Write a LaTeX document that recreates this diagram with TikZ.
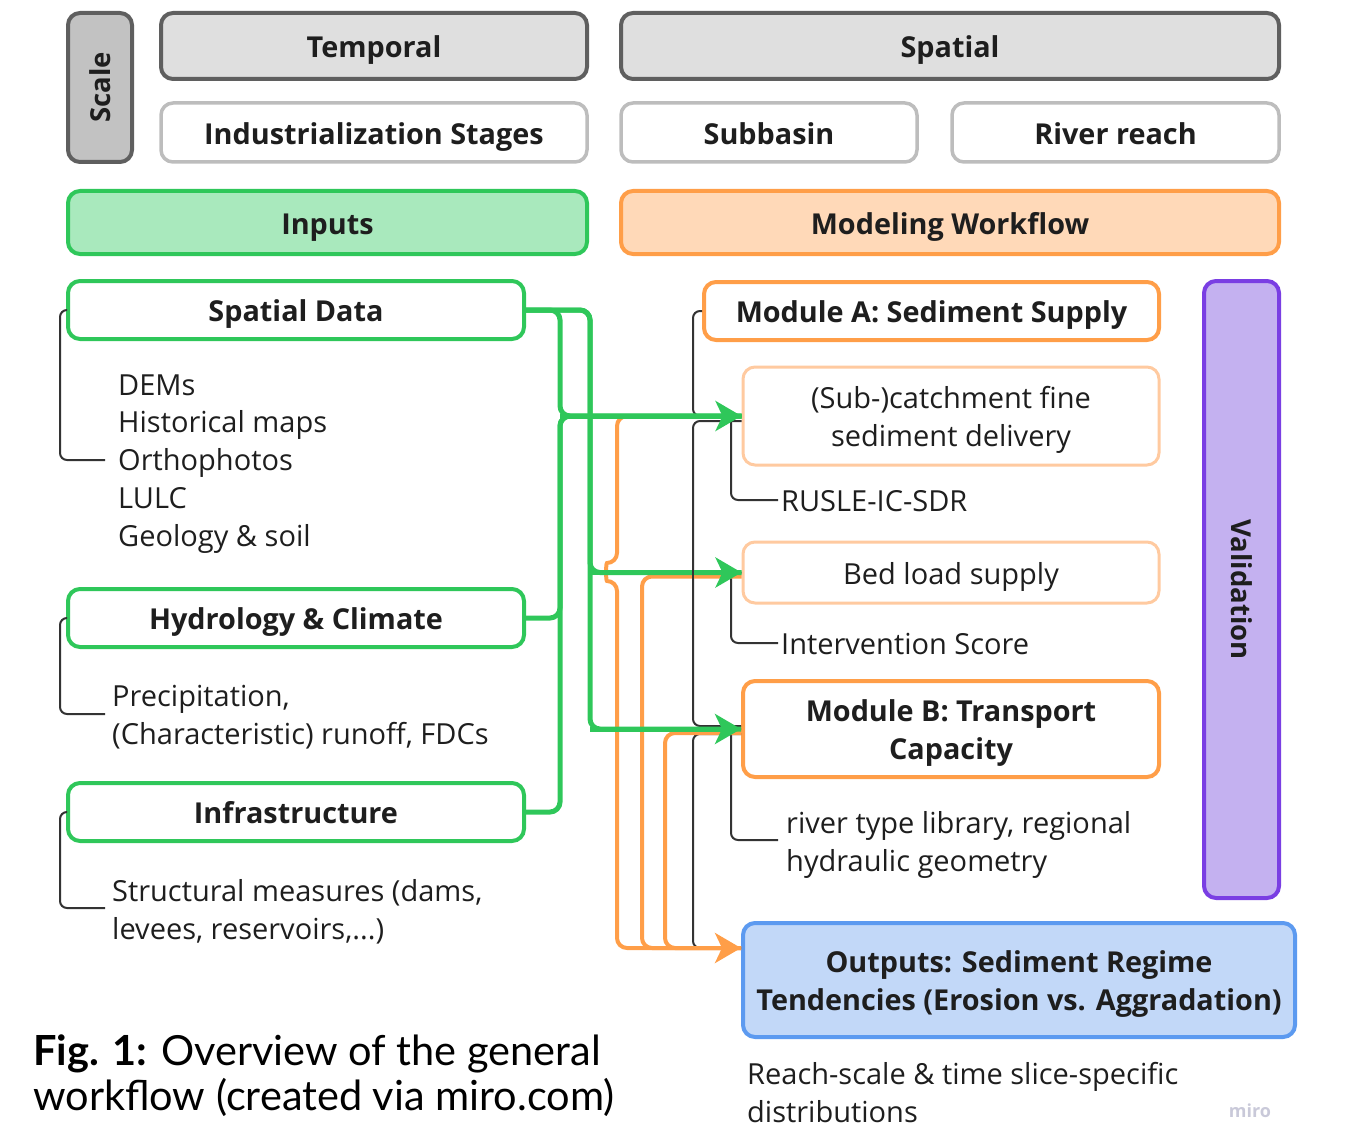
\documentclass[tikz,border=0pt]{standalone}
\usepackage{fontspec}
\setmainfont{Open Sans}
\newfontfamily\capfont{Lato}
\usetikzlibrary{arrows.meta}
\definecolor{txt}{HTML}{1E1E1E}
\definecolor{dgray}{HTML}{5F5F5F}
\definecolor{lgray}{HTML}{BDBDBD}
\definecolor{scalefill}{HTML}{C2C2C2}
\definecolor{topfill}{HTML}{DFDFDF}
\definecolor{gline}{HTML}{2FC75A}
\definecolor{gfill}{HTML}{A9E9BD}
\definecolor{oline}{HTML}{FF9E48}
\definecolor{ofill}{HTML}{FFD9B8}
\definecolor{olight}{HTML}{FFCAA0}
\definecolor{pline}{HTML}{7A3EE3}
\definecolor{pfill}{HTML}{C4B1F0}
\definecolor{bline}{HTML}{5C9AF0}
\definecolor{bfill}{HTML}{C2D8F8}
\definecolor{brk}{HTML}{333333}
\definecolor{miro}{HTML}{C9C9D9}
\newcommand\bxt[1]{\raisebox{-4pt}[\height][\depth]{\begin{tabular}{@{}c@{}}#1\end{tabular}}}
\begin{document}
\begin{tikzpicture}[x=1pt,y=-1pt,
  box/.style={draw, rounded corners=12pt, line width=4pt, text=txt, align=center,
    inner sep=0pt, font=\fontsize{28.8}{38}\selectfont\bfseries},
  rbox/.style={box, font=\fontsize{29}{37.7}\selectfont},
  plain/.style={text=txt, align=left, inner sep=0pt, anchor=base west,
    font=\fontsize{29}{37.7}\selectfont},
  gconn/.style={draw=gline, line width=5pt, rounded corners=10pt},
  oconn/.style={draw=oline, line width=4pt, rounded corners=10pt},
  bconn/.style={draw=brk, line width=2pt, rounded corners=7pt},
  tip/.style={-{Stealth[length=26pt,width=30pt,inset=7pt]}},
]
\useasboundingbox (0,0) rectangle (1349,1134);
% ---- scale rows
\node[box, draw=dgray, fill=scalefill, minimum width=64, minimum height=149] (scale) at (100,87.5) {};
\node[rotate=90, text=txt, font=\fontsize{27.5}{30}\selectfont\bfseries] (scaletxt) at (scale.center) {Scale};
\node[box, draw=dgray, fill=topfill, minimum width=426, minimum height=66] (temporal) at (374,46) {\bxt{Temporal}};
\node[box, draw=dgray, fill=topfill, minimum width=658, minimum height=66] (spatial) at (950,46) {\bxt{Spatial}};
\node[box, draw=lgray, line width=3.5pt, fill=white, minimum width=426, minimum height=59] (indus) at (374,132.5) {\bxt{Industrialization Stages}};
\node[box, draw=lgray, line width=3.5pt, fill=white, minimum width=296, minimum height=59] (subbasin) at (769,132.5) {\bxt{Subbasin}};
\node[box, draw=lgray, line width=3.5pt, fill=white, minimum width=327, minimum height=59] (river) at (1115.5,132.5) {\bxt{River reach}};
% ---- headers
\node[box, draw=gline, fill=gfill, minimum width=519, minimum height=63] (inputs) at (327.5,222.5) {\bxt{Inputs}};
\node[box, draw=oline, fill=ofill, minimum width=658, minimum height=63] (modeling) at (950,222.5) {\bxt{Modeling Workflow}};
% ---- inputs
\node[box, draw=gline, fill=white, minimum width=456, minimum height=58] (spdata) at (296,310) {\bxt{Spatial Data}};
\node[box, draw=gline, fill=white, minimum width=456, minimum height=58] (hydro) at (296,618) {\bxt{Hydrology \& Climate}};
\node[box, draw=gline, fill=white, minimum width=456, minimum height=58] (infra) at (296,812) {\bxt{Infrastructure}};
\node[plain] (sdtxt) at (118,546) {DEMs\\Historical maps\\Orthophotos\\LULC\\Geology \& soil};
\node[plain] (hytxt) at (112,744) {Precipitation,\\(Characteristic) runoff, FDCs};
\node[plain] (inftxt) at (112,939) {Structural measures (dams,\\levees, reservoirs,...)};
% ---- workflow
\node[box, draw=oline, fill=white, minimum width=455, minimum height=58] (modA) at (931.5,311) {\bxt{Module A: Sediment Supply}};
\node[rbox, draw=olight, line width=3pt, fill=white, minimum width=416, minimum height=98] (subc) at (951,416) {\bxt{(Sub-)catchment fine\\sediment delivery}};
\node[rbox, draw=olight, line width=3pt, fill=white, minimum width=416, minimum height=61] (bedload) at (951,572.5) {\bxt{Bed load supply}};
\node[box, draw=oline, fill=white, minimum width=416, minimum height=96] (modB) at (951,729) {\bxt{Module B: Transport\\Capacity}};
\node[box, draw=pline, fill=pfill, minimum width=75, minimum height=617] (valid) at (1241.5,589.5) {};
\node[rotate=-90, text=txt, font=\fontsize{27.5}{30}\selectfont\bfseries] (validtxt) at (valid.center) {Validation};
\node[box, draw=bline, fill=bfill, minimum width=552, minimum height=114] (outputs) at (1019,980) {\bxt{Outputs: Sediment Regime\\Tendencies (Erosion vs. Aggradation)}};
\node[plain] (rusle) at (781,511) {RUSLE-IC-SDR};
\node[plain] (interv) at (781,654) {Intervention Score};
\node[plain] (rtl) at (786,871) {river type library, regional\\hydraulic geometry};
\node[plain] (reach) at (747,1122) {Reach-scale \& time slice-specific\\distributions};
% ---- caption & watermark
\node[anchor=base west, inner sep=0pt, align=left, text=black,
  font=\capfont\fontsize{41.5}{45}\selectfont] (caption) at (33,1110)
  {\textbf{Fig. 1:} Overview of the general\\workflow (created via miro.com)};
\node[text=miro, inner sep=0pt, font=\fontsize{18}{20}\selectfont\bfseries] (wm) at (1250,1111) {miro};
% ---- coordinates for routing
\coordinate (lx) at (60,0);
\coordinate (ax) at (693,0);
\coordinate (cx) at (731,0);
\coordinate (g1) at (560,0);
\coordinate (g2) at (590,0);
\coordinate (o1) at (617,0);
\coordinate (o2) at (642,0);
\coordinate (o3) at (665,0);
\coordinate (outin) at ([yshift=32pt]outputs.west);
% ---- black brackets (left)
\draw[bconn] (spdata.west) -- (lx |- spdata.west) -- (60,460) -- (105,460);
\draw[bconn] (hydro.west) -- (lx |- hydro.west) -- (60,714) -- (105,714);
\draw[bconn] (infra.west) -- (lx |- infra.west) -- (60,908) -- (105,908);
% ---- black brackets (right)
\draw[bconn] (modA.west) -- (ax |- modA.west) -- (ax |- subc.west) -- (subc.west);
\draw[bconn] ([yshift=-5pt]subc.west) -- ([yshift=-5pt]ax |- subc.west) -- ([yshift=3pt]ax |- modB.west) -- ([yshift=3pt]modB.west);
\draw[bconn] ([yshift=-5pt]modB.west) -- ([yshift=-5pt]ax |- modB.west) -- (ax |- outin) -- (outin);
\draw[bconn] (subc.west) -- (cx |- subc.west) -- (731,500) -- (778,500);
\draw[bconn] (bedload.west) -- (cx |- bedload.west) -- (731,643) -- (778,643);
\draw[bconn] (modB.west) -- (cx |- modB.west) -- (731,840) -- (778,840);
% ---- orange connectors
\draw[oconn] (subc.west) -- (o1 |- subc.west) -- (617,563) to[out=180,in=180,looseness=1.6] (617,581) -- (o1 |- outin) -- (outin);
\draw[oconn] ([yshift=-4pt]bedload.west) -- ([yshift=-4pt]o2 |- bedload.west) -- (o2 |- outin) -- (outin);
\draw[oconn] ([yshift=-4pt]modB.west) -- ([yshift=-4pt]o3 |- modB.west) -- (o3 |- outin) -- (outin);
\draw[draw=oline, fill=oline, line width=4pt, tip] (o3 |- outin) -- (outin);
% ---- green connectors
\draw[gconn] (spdata.east) -- (g1 |- spdata.east) -- (g1 |- subc.west) -- (subc.west);
\draw[gconn] (hydro.east) -- (g1 |- hydro.east) -- (g1 |- subc.west) -- (subc.west);
\draw[gconn] (infra.east) -- (g1 |- infra.east) -- (g1 |- subc.west) -- (subc.west);
\draw[gconn] (spdata.east) -- (g2 |- spdata.east) -- (g2 |- bedload.west) -- (bedload.west);
\draw[gconn] (spdata.east) -- (g2 |- spdata.east) -- (g2 |- modB.west) -- (modB.west);
\draw[draw=gline, line width=5pt, tip] (g1 |- subc.west) -- (subc.west);
\draw[draw=gline, line width=5pt, tip] (g2 |- bedload.west) -- (bedload.west);
\draw[draw=gline, line width=5pt, tip] (g2 |- modB.west) -- (modB.west);
% black crossing on top of green
\draw[draw=brk, line width=2pt] (693,565) -- (693,580);
\end{tikzpicture}
\end{document}
